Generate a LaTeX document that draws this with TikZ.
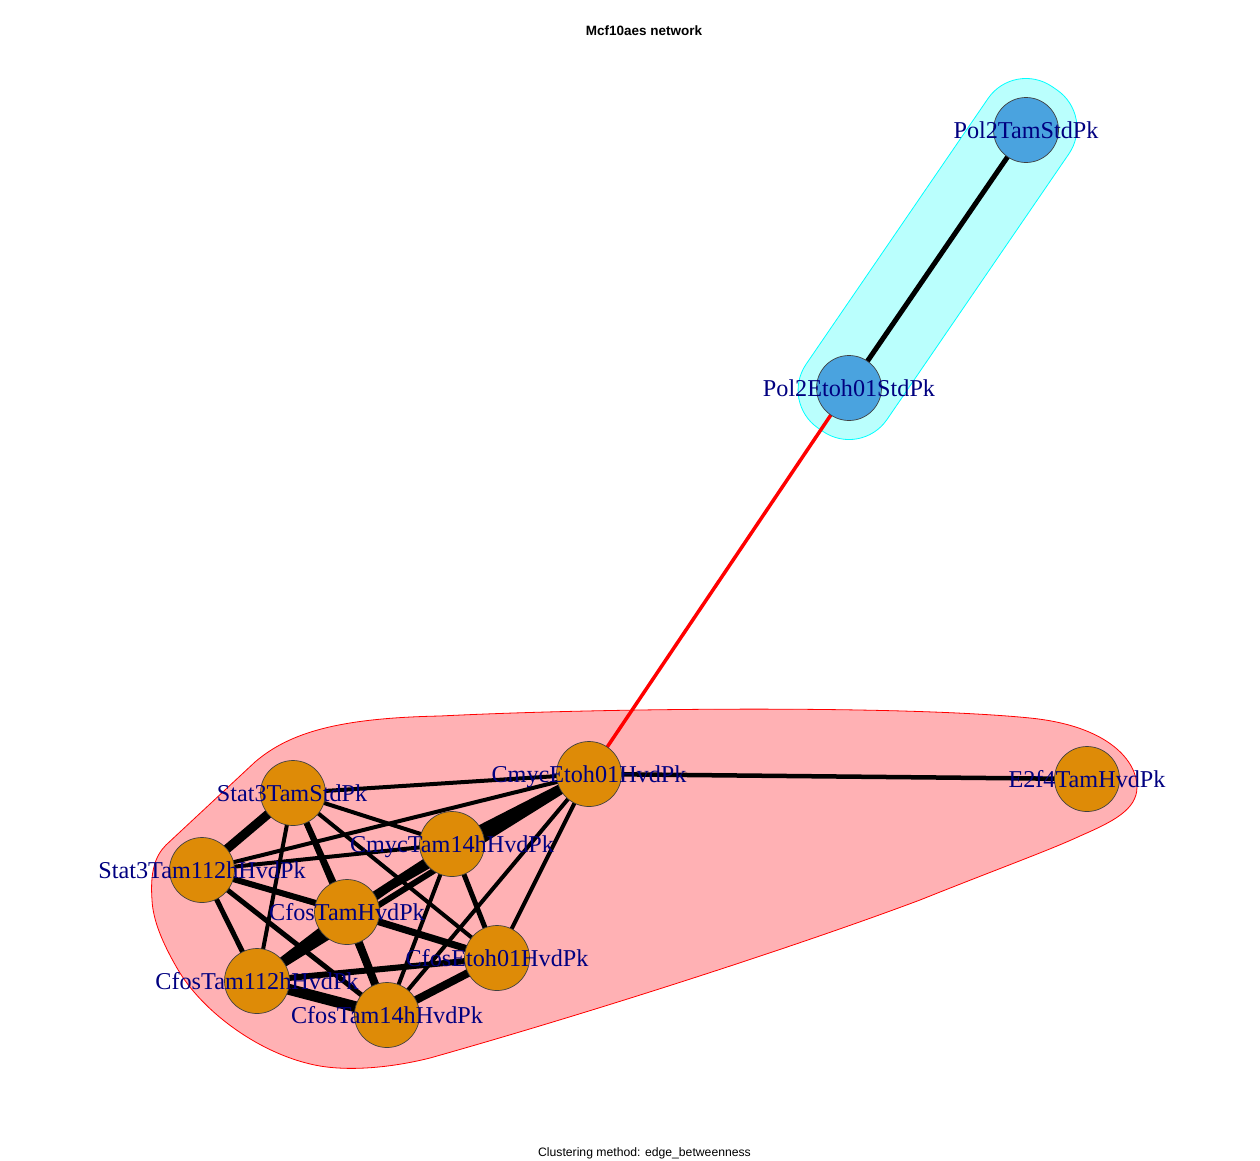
\documentclass[tikz,border=0pt]{standalone}
\usepackage{fontspec}
\setmainfont{Liberation Serif}
\newfontfamily\plotsans{Liberation Sans}
\pgfdeclarelayer{hulls}
\pgfdeclarelayer{edges}
\pgfsetlayers{hulls,edges,main}
\begin{document}
\definecolor{pinkfill}{RGB}{255,177,180}
\definecolor{pinkline}{RGB}{255,0,0}
\definecolor{cyanfill}{RGB}{186,255,253}
\definecolor{cyanline}{RGB}{0,255,255}
\definecolor{orangev}{RGB}{222,139,7}
\definecolor{bluev}{RGB}{74,163,223}
\definecolor{labnavy}{RGB}{0,0,128}
\begin{tikzpicture}[x=1pt,y=-1pt,
  vtx/.style={circle,draw=black!75,line width=0.7pt,minimum size=65pt,inner sep=0pt},
  vorange/.style={vtx,fill=orangev},
  vblue/.style={vtx,fill=bluev},
  lab/.style={anchor=base,inner sep=0pt,text=labnavy,font=\fontsize{24.2}{29}\selectfont},
  edge/.style={draw=black}]
\useasboundingbox (0,0) rectangle (1260,1160);

% vertices
\node[vblue]   (pt)   at (1026,130) {};
\node[vblue]   (pe)   at (849,388) {};
\node[vorange] (ce)   at (589,774) {};
\node[vorange] (e2)   at (1087,779) {};
\node[vorange] (s3)   at (293,793) {};
\node[vorange] (ct14) at (452,844) {};
\node[vorange] (s112) at (202,870) {};
\node[vorange] (ft)   at (347,912) {};
\node[vorange] (fe)   at (497,958) {};
\node[vorange] (f112) at (257,981) {};
\node[vorange] (f14)  at (387,1015) {};

% community hulls
\begin{pgfonlayer}{hulls}
\draw[pinkline,fill=pinkfill,line width=0.8pt]
  (152,900) .. controls (150,872) and (155,856) .. (166,845)
  -- (255,762)
  .. controls (290,732) and (340,718) .. (440,716)
  .. controls (600,708) and (900,705) .. (1030,718)
  .. controls (1110,726) and (1137,762) .. (1137,787)
  .. controls (1137,810) and (1112,822) .. (1080,836)
  .. controls (1050,850) and (1000,868) .. (920,900)
  .. controls (800,945) and (600,1010) .. (430,1058)
  .. controls (390,1068) and (350,1071) .. (320,1066)
  .. controls (262,1056) and (202,1012) .. (177,968)
  .. controls (162,942) and (153,920) .. (152,900) -- cycle;
\node[draw=cyanline,fill=cyanfill,line width=0.8pt,rounded corners=46pt,
  minimum width=414pt,minimum height=98pt,inner sep=0pt,rotate=55.6]
  (hullpol) at (937.5,259) {};
\end{pgfonlayer}

% edges
\begin{pgfonlayer}{edges}
\foreach \a/\b/\w in {
  ce/s3/4, ce/s112/4, ce/ct14/9, ce/ft/6, ce/f112/6, ce/fe/4, ce/f14/4, ce/e2/4.5,
  s3/s112/9, s3/ct14/4, s3/ft/6, s3/fe/4, s3/f112/4, s3/f14/4,
  s112/ct14/4, s112/ft/6, s112/fe/4, s112/f112/5, s112/f14/5,
  ct14/ft/6, ct14/fe/5, ct14/f14/4, ct14/f112/6,
  ft/fe/7, ft/f112/9, ft/f14/8,
  fe/f112/6, fe/f14/8, f112/f14/11, pe/pt/5}
  \draw[edge,line width=\w pt] (\a.center) -- (\b.center);
\draw[red,line width=3.5pt] (ce.center) -- (pe.center);
\end{pgfonlayer}

% vertex labels
\node[lab] (l-pt)   at (1026,138) {Pol2TamStdPk};
\node[lab] (l-pe)   at (849,396)  {Pol2Etoh01StdPk};
\node[lab] (l-ce)   at (589,782)  {CmycEtoh01HvdPk};
\node[lab] (l-e2)   at (1087,787) {E2f4TamHvdPk};
\node[lab] (l-s3)   at (292,801)  {Stat3TamStdPk};
\node[lab] (l-ct14) at (452,852)  {CmycTam14hHvdPk};
\node[lab] (l-s112) at (202,878)  {Stat3Tam112hHvdPk};
\node[lab] (l-ft)   at (347,920)  {CfosTamHvdPk};
\node[lab] (l-fe)   at (497,966)  {CfosEtoh01HvdPk};
\node[lab] (l-f112) at (257,989)  {CfosTam112hHvdPk};
\node[lab] (l-f14)  at (387,1023) {CfosTam14hHvdPk};

% titles
\node[anchor=base,inner sep=0pt,font=\plotsans\bfseries\fontsize{13.5}{16}\selectfont]
  (title) at (644,35) {Mcf10aes network};
\node[anchor=base,inner sep=0pt,font=\plotsans\fontsize{12.2}{15}\selectfont]
  (subtitle) at (644.5,1156) {Clustering method: edge\_betweenness};
\end{tikzpicture}
\end{document}
